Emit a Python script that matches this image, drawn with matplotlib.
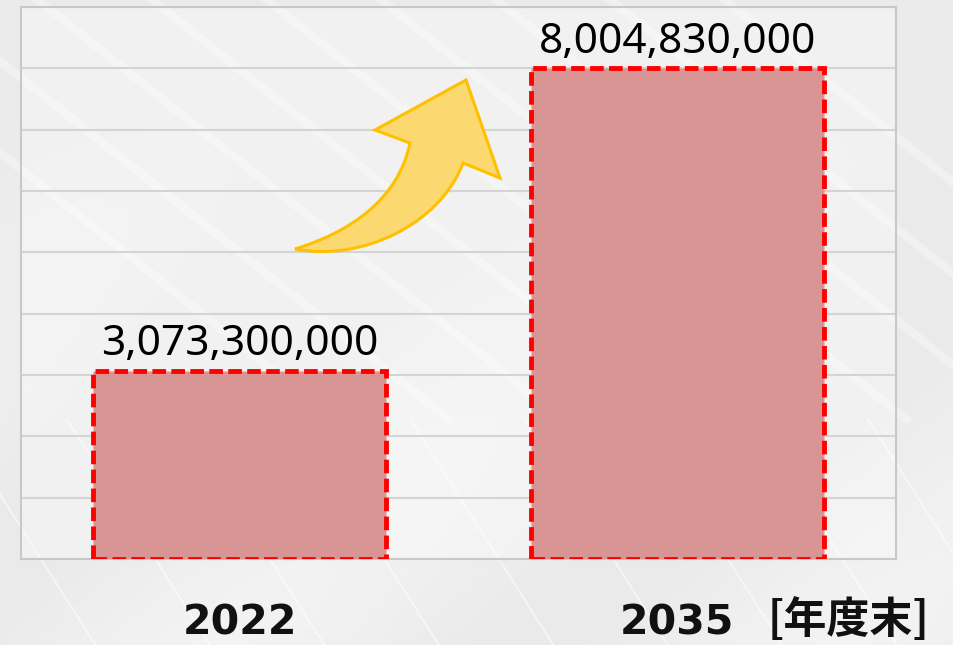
import numpy as np
import matplotlib
matplotlib.use("Agg")
import matplotlib.pyplot as plt
from matplotlib.path import Path
from matplotlib.patches import PathPatch
from matplotlib.ticker import MultipleLocator

# ---- data ----
categories = ["2022", "2035"]
values = [3073300000, 8004830000]
value_labels = ["3,073,300,000", "8,004,830,000"]
unit_label = "[年度末]"
y_max = 9e9
y_step = 1e9

W, H = 954, 645
fig = plt.figure(figsize=(W / 100, H / 100), dpi=100)

# background (light photo-like gradient)
bg_ax = fig.add_axes([0, 0, 1, 1], zorder=0)
gx, gy = np.meshgrid(np.linspace(0, 1, 200), np.linspace(0, 1, 140))
bg = 0.915 + 0.035 * np.sin(6 * (gx * 0.8 + gy * 0.6)) ** 2 * gy
bg_ax.imshow(bg, cmap="gray", vmin=0, vmax=1, extent=[0, 1, 0, 1], aspect="auto")
for k in range(9):
    x0 = 0.05 + k * 0.12
    bg_ax.plot([x0 - 0.25, x0 + 0.3], [1.0, 0.35], color="white", lw=6, alpha=0.35)
    bg_ax.plot([x0 - 0.1, x0 + 0.05], [0.35, 0.0], color="white", lw=1.5, alpha=0.5)
bg_ax.set_xlim(0, 1)
bg_ax.set_ylim(0, 1)
bg_ax.axis("off")

ax = fig.add_axes([21 / W, 1 - 559 / H, (896 - 21) / W, (559 - 7) / H], zorder=1)
ax.set_facecolor((1, 1, 1, 0.35))

x = np.arange(len(categories))
bars = ax.bar(x, values, width=0.67, color="#d99594", edgecolor="#ff0000",
              linewidth=3.5, linestyle=(0, (2.8, 1.1)), zorder=3)

for xi, v, lab in zip(x, values, value_labels):
    ax.annotate(lab, (xi, v), xytext=(0, 11), textcoords="offset points",
                ha="center", va="baseline", fontsize=30.5, family="Noto Sans",
                color="black", zorder=4)

ax.set_xlim(-0.5, len(categories) - 0.5)
ax.set_ylim(0, y_max)
ax.yaxis.set_major_locator(MultipleLocator(y_step))
ax.grid(axis="y", color="#d4d4d4", lw=1.5, zorder=1)
ax.set_axisbelow(True)
ax.tick_params(axis="y", left=False, labelleft=False)
ax.set_xticks(x)
ax.set_xticklabels(categories, fontsize=29.5, fontweight="bold", color="#111111")
ax.tick_params(axis="x", length=0, pad=32)
for s in ["left", "right", "top", "bottom"]:
    ax.spines[s].set_color("#c8c8c8")
    ax.spines[s].set_linewidth(1.5)

fig.text(768 / W, 1 - 633 / H, unit_label, fontsize=31, fontweight="bold",
         family=["Noto Sans CJK JP", "DejaVu Sans"], color="#111111",
         ha="left", va="baseline")

# decorative curved arrow (figure pixel coordinates)
def P(px, py):
    return (px / W, 1 - py / H)

verts = [P(295, 249),
         P(350, 232), P(398, 200), P(410, 143),
         P(375, 130), P(466, 80), P(500, 178), P(463, 163),
         P(440, 225), P(360, 262), P(295, 249),
         P(295, 249)]
codes = [Path.MOVETO,
         Path.CURVE4, Path.CURVE4, Path.CURVE4,
         Path.LINETO, Path.LINETO, Path.LINETO, Path.LINETO,
         Path.CURVE4, Path.CURVE4, Path.CURVE4,
         Path.CLOSEPOLY]
arrow = PathPatch(Path(verts, codes), facecolor="#fcd970", edgecolor="#ffc000",
                  lw=2.2, transform=fig.transFigure, zorder=5)
fig.patches.append(arrow)

fig.savefig("out.png", dpi=100)
